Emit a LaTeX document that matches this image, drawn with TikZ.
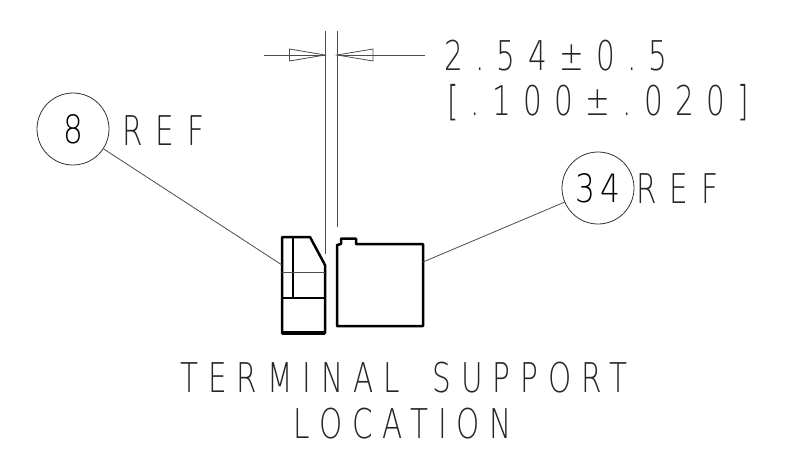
\documentclass[tikz,border=0pt]{standalone}
\usepackage{fontspec}
\newfontfamily\drawfont[LetterSpace=24,FakeStretch=0.72]{DejaVu Sans ExtraLight}
\newfontfamily\dimfont[LetterSpace=30,FakeStretch=0.72]{DejaVu Sans ExtraLight}
\newfontfamily\reffont[LetterSpace=32,FakeStretch=0.72]{DejaVu Sans ExtraLight}
\newfontfamily\bubfont[LetterSpace=12,FakeStretch=0.8]{DejaVu Sans ExtraLight}
\tikzset{x=1pt,y=-1pt,
 thinl/.style={line width=0.8pt,draw=black!70},
 thickl/.style={line width=2.5pt,line join=round,draw=black},
 medl/.style={line width=1.5pt,draw=black},
 bubble/.style={circle,draw=black!80,line width=0.8pt,minimum size=72pt,inner sep=0pt,font=\bubfont\fontsize{39}{39}\selectfont},
 lab/.style={inner sep=0pt,anchor=base west,text=black!85,font=\drawfont\fontsize{41}{41}\selectfont},
 dimlab/.style={lab,font=\dimfont\fontsize{41}{41}\selectfont},
 reflab/.style={lab,font=\reffont\fontsize{41}{41}\selectfont}}
\begin{document}
\begin{tikzpicture}
\useasboundingbox (0,0) rectangle (796,472);
% bubbles
\node[bubble] (b8) at (73,129) {8};
\node[bubble] (b34) at (598,188) {34};
\node[reflab] (r8) at (122,145) {REF};
\node[reflab] (r34) at (636,203) {REF};
% dimension text
\node[dimlab] (d1) at (444,70) {2.54±0.5};
\node[dimlab] (d2) at (447,115) {[.100±.020]};
\node[lab,anchor=base] (t1) at (404,392) {TERMINAL \hspace{14pt}SUPPORT};
\node[lab,anchor=base] (t2) at (403,438) {LOCATION};
% parts
\draw[thickl] (282,237) -- (310,237) -- (325,265) -- (325,333) -- (282,333) -- cycle;
\draw[thickl] (293,237) -- (293,298);
\draw[medl] (282,298) -- (325,298);
\draw[thinl] (282,272) -- (325,272);
\draw[line width=3.5pt] (282,333) -- (325,333);
\draw[thickl] (337,326) -- (337,245) -- (341,244) -- (341,238.5) -- (356,238.5) -- (356,244) -- (423,244) -- (423,326) -- cycle;
% leader ends
\coordinate (pl) at (282,265);
\coordinate (pr) at (423,262);
\draw[thinl] (b8) -- (pl);
\draw[thinl] (b34) -- (pr);
% extension lines
\coordinate (e1a) at (325,31);
\coordinate (e1b) at (325,254);
\coordinate (e2a) at (337,31);
\coordinate (e2b) at (337,227);
\draw[thinl] (e1a) -- (e1b);
\draw[thinl] (e2a) -- (e2b);
% dimension lines and arrowheads
\coordinate (l1) at (264,55);
\coordinate (l2) at (425,55);
\coordinate (tl) at (325,55);
\coordinate (tr) at (337,55);
\draw[thinl] (l1) -- (tl);
\draw[thinl] (l2) -- (tr);
\draw[thinl] (tl) -- (289.5,49) -- (289.5,61) -- cycle;
\draw[thinl] (tr) -- (373,49) -- (373,61) -- cycle;
\end{tikzpicture}
\end{document}
